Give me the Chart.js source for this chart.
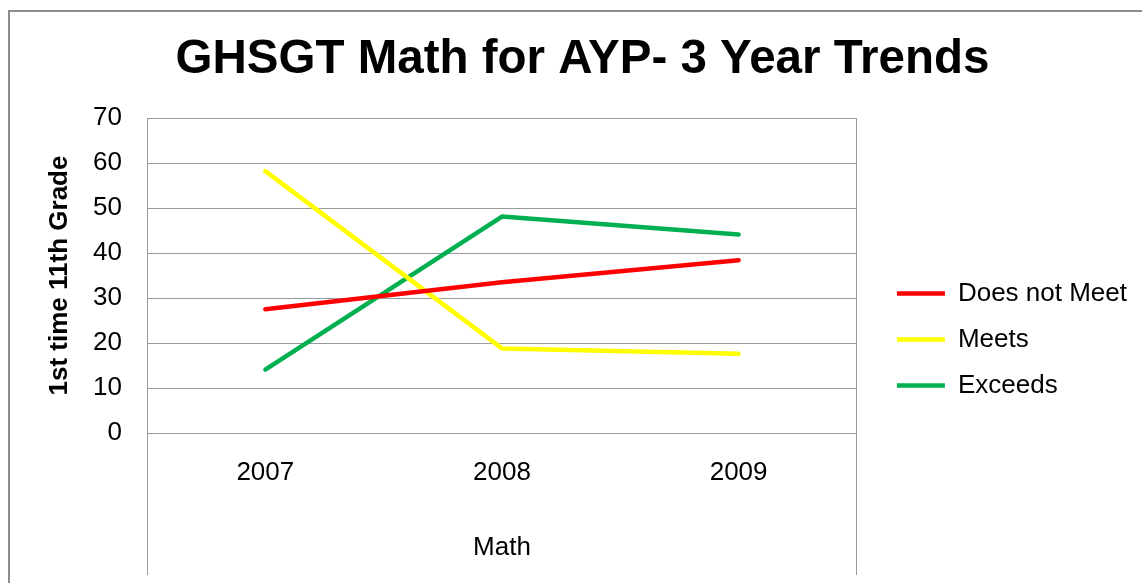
<!DOCTYPE html>
<html>
<head>
<meta charset="utf-8">
<script src="https://cdn.jsdelivr.net/npm/chart.js@4"></script>
<style>
  html, body { margin: 0; padding: 0; background: #fff; }
  #wrap { width: 1142px; height: 583px; }
</style>
</head>
<body>
<div id="wrap"><canvas id="trendChart" width="1142" height="583"></canvas></div>
<script>
// values
const years = ['2007', '2008', '2009'];
const doesNotMeet = [27.5, 33.5, 38.4];
const meets = [58.2, 18.8, 17.6];
const exceeds = [14.1, 48.1, 44.1];

const FONT = "'Liberation Sans', Arial, sans-serif";

// grey frame round the slide and the two vertical rules of the plot box
const framePlugin = {
  id: 'frame',
  beforeDraw(chart) {
    const ctx = chart.ctx;
    const a = chart.chartArea;
    ctx.save();
    ctx.strokeStyle = '#8c8c8c';
    ctx.lineWidth = 2;
    ctx.beginPath();
    ctx.moveTo(9, chart.height);
    ctx.lineTo(9, 11);
    ctx.lineTo(chart.width, 11);
    ctx.stroke();
    ctx.strokeStyle = '#9a9a9a';
    ctx.lineWidth = 1;
    ctx.beginPath();
    ctx.moveTo(Math.round(a.left) + 0.5, a.top);
    ctx.lineTo(Math.round(a.left) + 0.5, a.bottom + 142);
    ctx.moveTo(Math.round(a.right) - 0.5, a.top);
    ctx.lineTo(Math.round(a.right) - 0.5, a.bottom + 142);
    ctx.stroke();
    ctx.restore();
  }
};

// nudge legend and title to where they sit in the original
const nudgePlugin = {
  id: 'nudge',
  afterLayout(chart) {
    const l = chart.legend;
    l.top += 64; l.bottom += 64;
    l.left += 20; l.right += 20;
    const t = chart.titleBlock;
    t.left += 24; t.right += 24;
  }
};

function lineSet(label, data, color) {
  return {
    label: label,
    data: data,
    borderColor: color,
    backgroundColor: color,
    borderWidth: 4.5,
    borderCapStyle: 'round',
    borderJoinStyle: 'round',
    pointRadius: 0,
    pointHoverRadius: 0,
    tension: 0
  };
}

new Chart(document.getElementById('trendChart'), {
  type: 'line',
  data: {
    labels: years,
    datasets: [
      lineSet('Does not Meet', doesNotMeet, '#ff0000'),
      lineSet('Meets', meets, '#ffff00'),
      lineSet('Exceeds', exceeds, '#00b050')
    ]
  },
  options: {
    responsive: false,
    animation: false,
    events: [],
    layout: { padding: { left: 0, right: 25, top: 0, bottom: 0 } },
    plugins: {
      title: {
        display: true,
        text: 'GHSGT Math for AYP- 3 Year Trends',
        color: '#000',
        font: { family: FONT, size: 47.5, weight: 'bold' },
        padding: { top: 31, bottom: 30 }
      },
      legend: {
        position: 'right',
        fullSize: false,
        labels: {
          color: '#000',
          font: { family: FONT, size: 26 },
          usePointStyle: true,
          pointStyle: 'line',
          pointStyleWidth: 48,
          padding: 20
        }
      },
      tooltip: { enabled: false }
    },
    scales: {
      x: {
        offset: true,
        grid: { display: false, drawTicks: false },
        border: { display: false },
        ticks: { color: '#000', font: { family: FONT, size: 26 }, padding: 24 },
        title: {
          display: true,
          text: 'Math',
          color: '#000',
          font: { family: FONT, size: 26 },
          padding: { top: 0, bottom: 20 }
        },
        afterFit(scale) { scale.height = 150; }
      },
      y: {
        min: 0,
        max: 70,
        grid: { color: '#9a9a9a', lineWidth: 1, drawTicks: false },
        border: { display: false },
        ticks: { stepSize: 10, color: '#000', font: { family: FONT, size: 26 }, padding: 25 },
        title: {
          display: true,
          text: '1st time 11th Grade',
          color: '#000',
          font: { family: FONT, size: 26, weight: 'bold' },
          padding: { top: 44, bottom: 0 }
        },
        afterFit(scale) { scale.width = 147; }
      }
    }
  },
  plugins: [framePlugin, nudgePlugin]
});
</script>
</body>
</html>
